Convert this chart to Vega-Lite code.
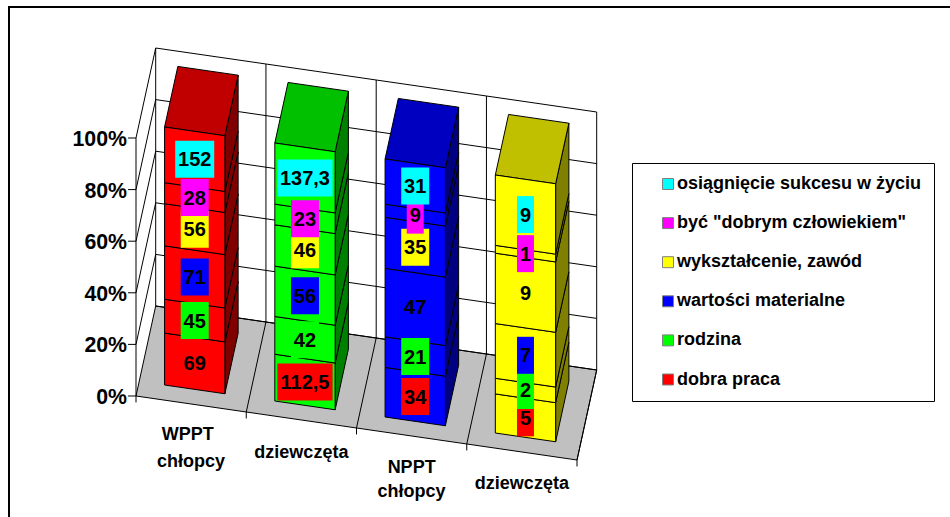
{
"$schema":"https://vega.github.io/schema/vega-lite/v6.json",
"width":945,"height":515,"autosize":"none","padding":{"left":9,"top":7,"right":0,"bottom":0},
"background":"white",
"view":{"stroke":"black","strokeWidth":2},
"datasets":{
"bars":[
{"col":0,"order":0,"series":"dobra praca","value":69,"label":"69"},
{"col":0,"order":1,"series":"rodzina","value":45,"label":"45"},
{"col":0,"order":2,"series":"wartości materialne","value":71,"label":"71"},
{"col":0,"order":3,"series":"wykształcenie, zawód","value":56,"label":"56"},
{"col":0,"order":4,"series":"być \"dobrym człowiekiem\"","value":28,"label":"28"},
{"col":0,"order":5,"series":"osiągnięcie sukcesu w życiu","value":74,"label":"152"},
{"col":1,"order":0,"series":"dobra praca","value":52,"label":"112,5"},
{"col":1,"order":1,"series":"rodzina","value":42,"label":"42"},
{"col":1,"order":2,"series":"wartości materialne","value":56,"label":"56"},
{"col":1,"order":3,"series":"wykształcenie, zawód","value":46,"label":"46"},
{"col":1,"order":4,"series":"być \"dobrym człowiekiem\"","value":23,"label":"23"},
{"col":1,"order":5,"series":"osiągnięcie sukcesu w życiu","value":68,"label":"137,3"},
{"col":2,"order":0,"series":"dobra praca","value":34,"label":"34"},
{"col":2,"order":1,"series":"rodzina","value":21,"label":"21"},
{"col":2,"order":2,"series":"wartości materialne","value":47,"label":"47"},
{"col":2,"order":3,"series":"wykształcenie, zawód","value":35,"label":"35"},
{"col":2,"order":4,"series":"być \"dobrym człowiekiem\"","value":9,"label":"9"},
{"col":2,"order":5,"series":"osiągnięcie sukcesu w życiu","value":31,"label":"31"},
{"col":3,"order":0,"series":"dobra praca","value":5,"label":"5"},
{"col":3,"order":1,"series":"rodzina","value":2,"label":"2"},
{"col":3,"order":2,"series":"wartości materialne","value":7,"label":"7"},
{"col":3,"order":3,"series":"wykształcenie, zawód","value":9,"label":"9"},
{"col":3,"order":4,"series":"być \"dobrym człowiekiem\"","value":1,"label":"1"},
{"col":3,"order":5,"series":"osiągnięcie sukcesu w życiu","value":9,"label":"9"}
],
"floor":[
{"k":0,"c":0,"d":0,"p":0},{"k":1,"c":4,"d":0,"p":0},{"k":2,"c":4,"d":1,"p":0},{"k":3,"c":0,"d":1,"p":0}
],
"grid":[
{"id":"a0","k":0,"c":0,"d":1,"p":0},{"id":"a0","k":1,"c":4,"d":1,"p":0},
{"id":"a2","k":0,"c":-0.07,"d":-0.0124,"p":0.2},{"id":"a2","k":1,"c":0,"d":0,"p":0.2},{"id":"a2","k":2,"c":0,"d":1,"p":0.2},{"id":"a2","k":3,"c":4,"d":1,"p":0.2},
{"id":"a4","k":0,"c":-0.07,"d":-0.0124,"p":0.4},{"id":"a4","k":1,"c":0,"d":0,"p":0.4},{"id":"a4","k":2,"c":0,"d":1,"p":0.4},{"id":"a4","k":3,"c":4,"d":1,"p":0.4},
{"id":"a6","k":0,"c":-0.07,"d":-0.0124,"p":0.6},{"id":"a6","k":1,"c":0,"d":0,"p":0.6},{"id":"a6","k":2,"c":0,"d":1,"p":0.6},{"id":"a6","k":3,"c":4,"d":1,"p":0.6},
{"id":"a8","k":0,"c":-0.07,"d":-0.0124,"p":0.8},{"id":"a8","k":1,"c":0,"d":0,"p":0.8},{"id":"a8","k":2,"c":0,"d":1,"p":0.8},{"id":"a8","k":3,"c":4,"d":1,"p":0.8},
{"id":"a10","k":0,"c":-0.07,"d":-0.0124,"p":1},{"id":"a10","k":1,"c":0,"d":0,"p":1},{"id":"a10","k":2,"c":0,"d":1,"p":1},{"id":"a10","k":3,"c":4,"d":1,"p":1},
{"id":"a00","k":0,"c":-0.07,"d":-0.0124,"p":0},{"id":"a00","k":1,"c":0,"d":0,"p":0},{"id":"a00","k":2,"c":4,"d":0,"p":0},{"id":"a00","k":3,"c":4,"d":1,"p":0},{"id":"a00","k":4,"c":0,"d":1,"p":0},{"id":"a00","k":5,"c":0,"d":0,"p":0},
{"id":"ax","k":0,"c":0,"d":0,"p":-0.025},{"id":"ax","k":1,"c":0,"d":0,"p":1},
{"id":"bk0","k":0,"c":0,"d":1,"p":0},{"id":"bk0","k":1,"c":0,"d":1,"p":1},
{"id":"bk1","k":0,"c":1,"d":-0,"p":-0.025},{"id":"bk1","k":1,"c":1,"d":0,"p":0},{"id":"bk1","k":2,"c":1,"d":1,"p":0},{"id":"bk1","k":3,"c":1,"d":1,"p":1},
{"id":"bk2","k":0,"c":2,"d":0,"p":-0.025},{"id":"bk2","k":1,"c":2,"d":0,"p":0},{"id":"bk2","k":2,"c":2,"d":1,"p":0},{"id":"bk2","k":3,"c":2,"d":1,"p":1},
{"id":"bk3","k":0,"c":3,"d":0,"p":-0.025},{"id":"bk3","k":1,"c":3,"d":0,"p":0},{"id":"bk3","k":2,"c":3,"d":1,"p":0},{"id":"bk3","k":3,"c":3,"d":1,"p":1},
{"id":"bk4","k":0,"c":4,"d":0,"p":-0.025},{"id":"bk4","k":1,"c":4,"d":0,"p":0},{"id":"bk4","k":2,"c":4,"d":1,"p":0},{"id":"bk4","k":3,"c":4,"d":1,"p":1}
],
"ylabels":[{"t":"0%","p":0},{"t":"20%","p":0.2},{"t":"40%","p":0.4},{"t":"60%","p":0.6},{"t":"80%","p":0.8},{"t":"100%","p":1}],
"xlabels":[
{"t":"WPPT","c":0.47,"p":-0.118},{"t":"chłopcy","c":0.5,"p":-0.22},
{"t":"dziewczęta","c":1.5,"p":-0.123},
{"t":"NPPT","c":2.5,"p":-0.119},{"t":"chłopcy","c":2.5,"p":-0.212},
{"t":"dziewczęta","c":3.5,"p":-0.119}
]
},
"encoding":{
"x":{"field":"px","type":"quantitative","axis":null,"scale":{"domain":[9,954],"nice":false,"zero":false}},
"y":{"field":"py","type":"quantitative","axis":null,"scale":{"domain":[522,7],"nice":false,"zero":false}}
},
"layer":[
{"data":{"name":"floor"},
"transform":[{"calculate":"136+110.25*datum.c+19.7*datum.d","as":"px"},{"calculate":"396+16*datum.c-90*datum.d-258*datum.p","as":"py"}],
"mark":{"type":"line","interpolate":"linear-closed","fill":"#C0C0C0","strokeWidth":0},
"encoding":{"order":{"field":"k"}}},
{"data":{"name":"grid"},
"transform":[{"calculate":"136+110.25*datum.c+19.7*datum.d","as":"px"},{"calculate":"396+16*datum.c-90*datum.d-258*datum.p","as":"py"}],
"mark":{"type":"line","color":"black","strokeWidth":1},
"encoding":{"order":{"field":"k"},"detail":{"field":"id"}}},
{"data":{"name":"ylabels"},
"transform":[{"calculate":"136-9","as":"px"},{"calculate":"396-258*datum.p+2","as":"py"}],
"mark":{"type":"text","align":"right","baseline":"middle","font":"Liberation Sans","fontWeight":"bold","fontSize":21.3,"color":"black"},
"encoding":{"text":{"field":"t"}}},
{"data":{"name":"xlabels"},
"transform":[{"calculate":"136+110.25*datum.c","as":"px"},{"calculate":"397+16*datum.c-258*datum.p","as":"py"}],
"mark":{"type":"text","align":"center","baseline":"middle","font":"Liberation Sans","fontWeight":"bold","fontSize":18,"color":"black"},
"encoding":{"text":{"field":"t"}}},
{"data":{"name":"bars"},
"transform":[
{"stack":"value","groupby":["col"],"offset":"normalize","sort":[{"field":"order"}],"as":["p0","p1"]},
{"calculate":"[0,1,2,3]","as":"corners"},{"flatten":["corners"],"as":["k"]},
{"calculate":"datum.col+0.777","as":"c"},
{"calculate":"(datum.k==1||datum.k==2)?0.836:0.163","as":"d"},
{"calculate":"datum.k<2?datum.p0:datum.p1","as":"p"},
{"calculate":"136+110.25*datum.c+19.7*datum.d","as":"px"},{"calculate":"396+16*datum.c-90*datum.d-258*datum.p","as":"py"}],
"mark":{"type":"line","interpolate":"linear-closed","stroke":"black","strokeWidth":1},
"encoding":{"order":{"field":"k"},"detail":{"field":"series"},
"fill":{"field":"col","type":"nominal","legend":null,"scale":{"domain":[0,1,2,3],"range":["#800000","#008000","#000080","#808000"]}}}},
{"data":{"name":"bars"},
"transform":[
{"filter":"datum.order==5"},
{"calculate":"[0,1,2,3]","as":"corners"},{"flatten":["corners"],"as":["k"]},
{"calculate":"datum.col+((datum.k==1||datum.k==2)?0.777:0.23)","as":"c"},
{"calculate":"datum.k<2?0.163:0.836","as":"d"},
{"calculate":"136+110.25*datum.c+19.7*datum.d","as":"px"},{"calculate":"396+16*datum.c-90*datum.d-258","as":"py"}],
"mark":{"type":"line","interpolate":"linear-closed","stroke":"black","strokeWidth":1},
"encoding":{"order":{"field":"k"},
"fill":{"field":"col","type":"nominal","legend":null,"scale":{"domain":[0,1,2,3],"range":["#C00000","#00C000","#0000C0","#C0C000"]}}}},
{"data":{"name":"bars"},
"transform":[
{"stack":"value","groupby":["col"],"offset":"normalize","sort":[{"field":"order"}],"as":["p0","p1"]},
{"calculate":"[0,1,2,3]","as":"corners"},{"flatten":["corners"],"as":["k"]},
{"calculate":"datum.col+((datum.k==1||datum.k==2)?0.777:0.23)","as":"c"},
{"calculate":"datum.k<2?datum.p0:datum.p1","as":"p"},
{"calculate":"136+110.25*datum.c+19.7*0.163","as":"px"},{"calculate":"396+16*datum.c-90*0.163-258*datum.p","as":"py"}],
"mark":{"type":"line","interpolate":"linear-closed","stroke":"black","strokeWidth":1},
"encoding":{"order":{"field":"k"},"detail":{"field":"series"},
"fill":{"field":"col","type":"nominal","legend":null,"scale":{"domain":[0,1,2,3],"range":["#FF0000","#00FF00","#0000FF","#FFFF00"]}}}},
{"data":{"name":"bars"},
"transform":[
{"stack":"value","groupby":["col"],"offset":"normalize","sort":[{"field":"order"}],"as":["p0","p1"]},
{"calculate":"datum.col+0.5035","as":"c"},
{"calculate":"136+110.25*datum.c+19.7*0.163","as":"cx"},{"calculate":"396+16*datum.c-90*0.163-258*(datum.p0+datum.p1)/2","as":"cy"},
{"calculate":"6+11*length(replace(datum.label,',',''))+(indexof(datum.label,',')>=0?5.2:0)","as":"w"},
{"calculate":"datum.cx-datum.w/2","as":"px"},{"calculate":"datum.cx+datum.w/2","as":"px2"},
{"calculate":"datum.cy-18.5","as":"py"},{"calculate":"datum.cy+18.5","as":"py2"}],
"mark":{"type":"rect"},
"encoding":{"x2":{"field":"px2"},"y2":{"field":"py2"},"order":{"field":"order"},
"fill":{"field":"series","type":"nominal",
"scale":{"domain":["osiągnięcie sukcesu w życiu","być \"dobrym człowiekiem\"","wykształcenie, zawód","wartości materialne","rodzina","dobra praca"],"range":["#00FFFF","#FF00FF","#FFFF00","#0000FF","#00FF00","#FF0000"]},
"legend":{"title":null,"orient":"none","legendX":623,"legendY":156,"padding":12,"strokeColor":"black","fillColor":"white","symbolType":"square","symbolSize":121,"symbolStrokeColor":"#808080","symbolStrokeWidth":1,"symbolOffset":15,"rowPadding":21.1,"labelFont":"Liberation Sans","labelFontWeight":"bold","labelFontSize":18,"labelColor":"black","labelLimit":400,"labelOffset":0,"labelExpr":"datum.label+'\u00a0\u00a0\u00a0\u00a0\u00a0'"}}}},
{"data":{"name":"bars"},
"transform":[
{"stack":"value","groupby":["col"],"offset":"normalize","sort":[{"field":"order"}],"as":["p0","p1"]},
{"calculate":"datum.col+0.5035","as":"c"},
{"calculate":"136+110.25*datum.c+19.7*0.163","as":"px"},{"calculate":"397+16*datum.c-90*0.163-258*(datum.p0+datum.p1)/2","as":"py"}],
"mark":{"type":"text","align":"center","baseline":"middle","font":"Liberation Sans","fontWeight":"bold","fontSize":20,"color":"black"},
"encoding":{"text":{"field":"label"}}}
],
"resolve":{"scale":{"fill":"independent"}}
}
